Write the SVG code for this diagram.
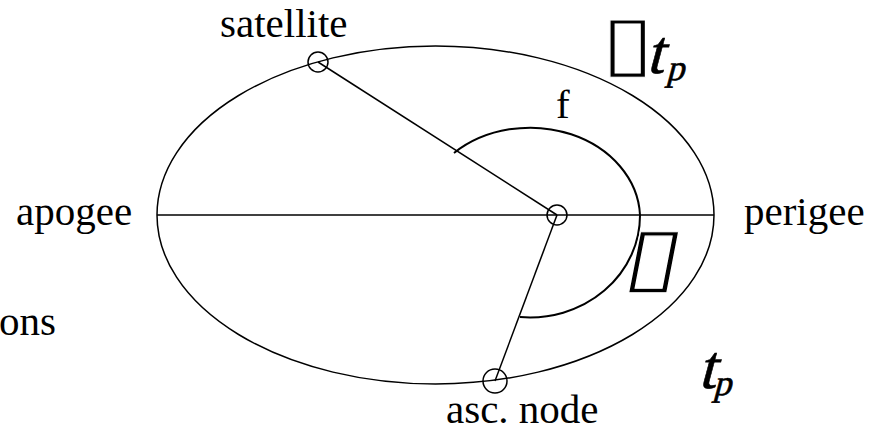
<svg xmlns="http://www.w3.org/2000/svg" width="869" height="432" viewBox="0 0 869 432">
<style>
.ln{fill:none;stroke:#000;stroke-width:1.5}
.arc{fill:none;stroke:#000;stroke-width:2}
.pt{fill:none;stroke:#000;stroke-width:1.5}
.lb{font-family:"Liberation Serif","Times New Roman",serif;font-size:41px;fill:#000}
.it{font-family:"Liberation Serif","Times New Roman",serif;fill:#000;stroke:#000;stroke-width:0.6}
.box{font-family:"DejaVu Sans",sans-serif;fill:#000;stroke:#fff;stroke-width:1}
</style>
<rect width="869" height="432" fill="#fff"/>
<g id="orbit">
<ellipse class="ln" cx="435.5" cy="215" rx="278.5" ry="169"/>
</g>
<g id="connectors">
<line class="ln" x1="157" y1="215" x2="714" y2="215"/>
<line class="ln" x1="318" y1="62" x2="557" y2="215"/>
<line class="ln" x1="557" y1="215" x2="495" y2="381"/>
<path class="arc" d="M454,153 A110,91 0 0 1 640,215 A110,102 0 0 1 520,317"/>
</g>
<g id="satellite">
<circle class="pt" cx="318" cy="62" r="10"/>
<text class="lb" x="220" y="37">satellite</text>
</g>
<g id="focus">
<circle class="pt" cx="557" cy="215" r="10"/>
</g>
<g id="asc-node">
<circle class="pt" cx="495" cy="381" r="12"/>
<text class="lb" x="446" y="423">asc. node</text>
</g>
<g id="apogee"><text class="lb" x="16" y="225">apogee</text></g>
<g id="perigee"><text class="lb" x="744" y="225">perigee</text></g>
<g id="f-label"><text class="lb" x="556" y="118">f</text></g>
<g id="omega-label"><text class="box" font-size="80" transform="translate(621,283) skewX(-11) scale(1.3,1)">▯</text></g>
<g id="dtp-label">
<text class="box" font-size="75" transform="translate(601,68) scale(1.3,1)">▯</text>
<text class="it" font-size="62" transform="translate(646,73) skewX(-15)">t</text>
<text class="it" font-size="36" transform="translate(666,80) skewX(-15)">p</text>
</g>
<g id="tp-label">
<text class="it" font-size="62" transform="translate(698,388) skewX(-15)">t</text>
<text class="it" font-size="36" transform="translate(713,395) skewX(-15)">p</text>
</g>
<g id="clipped"><text class="lb" x="56" y="335" text-anchor="end">ons</text></g>
</svg>
